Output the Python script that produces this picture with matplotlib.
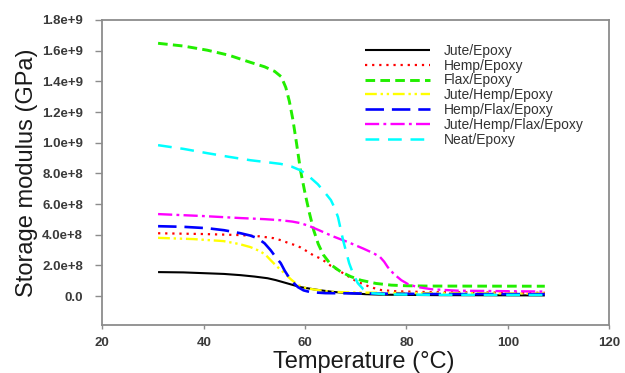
import matplotlib
matplotlib.use("Agg")
import matplotlib.pyplot as plt

plt.rcParams['font.family'] = ['Liberation Sans', 'DejaVu Sans']

# Storage modulus (Pa) vs temperature (°C) for each laminate
jute_T = [31.0, 36.0, 40.0, 44.0, 47.3, 50.0, 52.6, 54.2, 55.7, 57.5, 59.1, 61.7, 63.1, 65.5, 68.5, 72.0, 75.0, 85.0, 107.3]
jute_E = [0.157e9, 0.155e9, 0.150e9, 0.145e9, 0.137e9, 0.128e9, 0.117e9, 0.105e9, 0.091e9, 0.074e9, 0.059e9,
          0.045e9, 0.038e9, 0.028e9, 0.020e9, 0.013e9, 0.010e9, 0.007e9, 0.005e9]

hemp_T = [31.0, 40.0, 47.3, 51.0, 53.8, 55.2, 56.6, 57.8, 59.1, 60.5, 61.7, 63.1, 64.2, 65.1, 66.0, 67.0,
          68.5, 70.0, 71.0, 73.0, 75.0, 78.0, 85.0, 107.3]
hemp_E = [0.410e9, 0.405e9, 0.398e9, 0.390e9, 0.378e9, 0.365e9, 0.348e9, 0.335e9, 0.318e9, 0.290e9, 0.265e9,
          0.245e9, 0.220e9, 0.197e9, 0.180e9, 0.160e9, 0.130e9, 0.100e9, 0.085e9, 0.058e9, 0.040e9, 0.032e9,
          0.026e9, 0.022e9]

flax_T = [31.0, 36.0, 40.7, 45.0, 49.2, 52.0, 54.0, 55.3, 56.2, 56.9, 57.6, 58.3, 59.1, 60.0, 60.8, 61.7,
          62.6, 63.6, 65.1, 67.0, 69.0, 71.0, 74.0, 77.0, 80.0, 84.0, 107.3]
flax_E = [1.648e9, 1.630e9, 1.603e9, 1.570e9, 1.524e9, 1.495e9, 1.465e9, 1.430e9, 1.360e9, 1.270e9, 1.150e9,
          1.000e9, 0.820e9, 0.670e9, 0.550e9, 0.430e9, 0.340e9, 0.270e9, 0.205e9, 0.160e9, 0.128e9, 0.104e9,
          0.083e9, 0.072e9, 0.068e9, 0.066e9, 0.065e9]

jh_T = [31.0, 38.0, 43.9, 47.0, 49.2, 51.0, 52.2, 53.2, 54.4, 55.7, 57.2, 58.6, 60.5, 62.5, 65.0, 68.0, 80.0, 107.3]
jh_E = [0.380e9, 0.372e9, 0.359e9, 0.340e9, 0.320e9, 0.295e9, 0.270e9, 0.235e9, 0.195e9, 0.157e9, 0.110e9,
        0.072e9, 0.050e9, 0.040e9, 0.030e9, 0.025e9, 0.020e9, 0.018e9]

hf_T = [31.0, 36.0, 40.7, 44.0, 47.3, 49.2, 50.6, 52.0, 53.2, 54.2, 55.2, 56.0, 56.8, 57.7, 58.6, 59.7,
        61.1, 64.0, 70.0, 85.0, 107.3]
hf_E = [0.456e9, 0.452e9, 0.443e9, 0.430e9, 0.410e9, 0.395e9, 0.378e9, 0.345e9, 0.300e9, 0.255e9, 0.215e9,
        0.165e9, 0.124e9, 0.088e9, 0.059e9, 0.038e9, 0.026e9, 0.020e9, 0.018e9, 0.014e9, 0.013e9]

jhf_T = [31.0, 40.0, 47.3, 52.0, 55.2, 57.5, 59.1, 61.0, 63.1, 65.5, 68.5, 71.5, 73.5, 74.8, 75.6, 76.3,
         77.5, 79.0, 80.5, 82.3, 85.0, 90.0, 107.3]
jhf_E = [0.535e9, 0.522e9, 0.509e9, 0.502e9, 0.495e9, 0.486e9, 0.476e9, 0.455e9, 0.425e9, 0.390e9, 0.352e9,
         0.310e9, 0.280e9, 0.255e9, 0.225e9, 0.190e9, 0.145e9, 0.104e9, 0.075e9, 0.059e9, 0.045e9, 0.036e9,
         0.030e9]

neat_T = [31.0, 36.0, 40.7, 45.0, 49.2, 52.0, 55.2, 57.3, 59.1, 60.8, 62.5, 63.8, 65.1, 65.9, 66.5, 67.0,
          67.5, 68.1, 68.7, 69.5, 70.4, 71.5, 73.0, 76.0, 85.0, 107.3]
neat_E = [0.984e9, 0.960e9, 0.932e9, 0.908e9, 0.886e9, 0.875e9, 0.862e9, 0.845e9, 0.820e9, 0.780e9, 0.730e9,
          0.680e9, 0.626e9, 0.570e9, 0.515e9, 0.440e9, 0.365e9, 0.290e9, 0.215e9, 0.145e9, 0.085e9, 0.045e9,
          0.020e9, 0.012e9, 0.009e9, 0.008e9]

labels = ['Jute/Epoxy', 'Hemp/Epoxy', 'Flax/Epoxy', 'Jute/Hemp/Epoxy',
          'Hemp/Flax/Epoxy', 'Jute/Hemp/Flax/Epoxy', 'Neat/Epoxy']

x_ticks = [20, 40, 60, 80, 100, 120]
y_ticks = [0.0, 2e8, 4e8, 6e8, 8e8, 1e9, 1.2e9, 1.4e9, 1.6e9, 1.8e9]
y_ticklabels = ['0.0', '2.0e+8', '4.0e+8', '6.0e+8', '8.0e+8', '1.0e+9',
                '1.2e+9', '1.4e+9', '1.6e+9', '1.8e+9']

fig = plt.figure(figsize=(6.25, 3.73), dpi=100)
ax = fig.add_axes([0.1637, 0.129, 0.811, 0.8175])

styles = [
    dict(color='black', lw=1.5, ls='-'),
    dict(color='#ff0000', lw=1.6, ls=(0, (1, 2.2))),
    dict(color='#22ee00', lw=2.1, ls=(0, (3.3, 1.8))),
    dict(color='#ffff00', lw=1.7, ls=(0, (5, 1.6, 1, 1.6, 1, 1.6))),
    dict(color='#0000ff', lw=1.9, ls=(0, (7, 3))),
    dict(color='#ff00ff', lw=1.7, ls=(0, (6, 1.8, 1.2, 1.8))),
    dict(color='#00ffff', lw=1.8, ls=(0, (5.5, 3.5))),
]
series = [(jute_T, jute_E), (hemp_T, hemp_E), (flax_T, flax_E), (jh_T, jh_E),
          (hf_T, hf_E), (jhf_T, jhf_E), (neat_T, neat_E)]

for (t, e), lab, st in zip(series, labels, styles):
    ax.plot(t, e, label=lab, solid_capstyle='butt', dash_capstyle='butt',
            solid_joinstyle='round', dash_joinstyle='round', **st)

ax.set_xlim(20, 120)
ax.set_ylim(-1.87e8, 1.8e9)
ax.set_xticks(x_ticks)
ax.set_xticklabels([str(v) for v in x_ticks])
ax.set_yticks(y_ticks)
ax.set_yticklabels(y_ticklabels)

spine_col = '#8c8c8c'
for s in ax.spines.values():
    s.set_color(spine_col)
    s.set_linewidth(1.3)
ax.tick_params(axis='both', colors=spine_col, labelcolor='#3a3a3a',
               labelsize=9.5, width=1.0)
ax.tick_params(axis='y', length=5, pad=9)
ax.tick_params(axis='x', length=3, pad=6)
for lbl in ax.get_xticklabels() + ax.get_yticklabels():
    lbl.set_fontweight('bold')

ax.set_xlabel('Temperature (°C)', fontsize=17, color='#1a1a1a', labelpad=0)
ax.xaxis.set_label_coords(0.515, -0.085)
ax.xaxis.label.set_va('top')
ax.set_ylabel('Storage modulus (GPa)', fontsize=17, color='#1a1a1a', labelpad=3)

leg = ax.legend(loc='upper left', bbox_to_anchor=(0.518, 0.922), frameon=False,
                fontsize=10, handlelength=4.7, handletextpad=1.0,
                labelspacing=0.06, borderpad=0, borderaxespad=0)
for t in leg.get_texts():
    t.set_color('#333333')

fig.savefig('out.png', dpi=100)
